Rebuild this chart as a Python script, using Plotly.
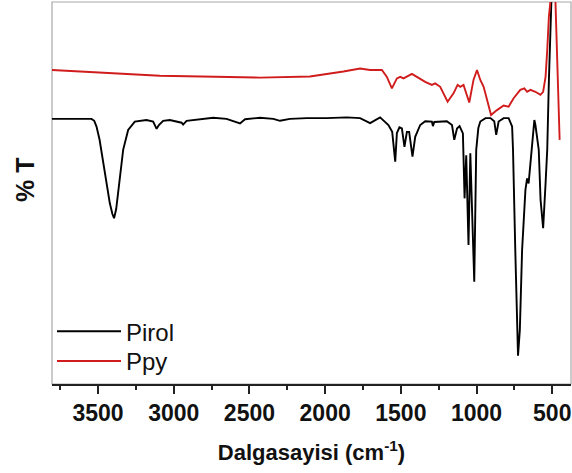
import plotly.graph_objects as go

# Pirol (black) spectrum: wavenumber (cm-1) and %T (arbitrary, 0-100 display scale)
pirol_wn = [3804, 3543, 3525, 3510, 3490, 3467, 3445, 3422, 3405, 3394, 3380, 3367, 3350, 3334, 3301, 3257, 3180, 3136, 3113, 3098, 3070,
            3026, 2948, 2938, 2915, 2827, 2739, 2651, 2562, 2529, 2430, 2342, 2298, 2232, 2121, 1989,
            1857, 1769, 1703, 1637, 1582, 1557, 1537, 1526, 1509, 1493, 1476, 1460, 1445, 1423, 1405,
            1372, 1339, 1295, 1288, 1279, 1196, 1162, 1147, 1129, 1112, 1090, 1079, 1068, 1053, 1041,
            1015, 1002, 988, 975, 941, 908, 883, 870, 854, 821, 788, 765, 759, 744, 726, 714, 699,
            677, 666, 656, 644, 633, 618, 611, 589, 577, 560, 544, 533, 522, 511, 497]
pirol_t = [69.4, 69.4, 68.9, 67.4, 64.0, 58.6, 52.5, 47.3, 44.5, 43.4, 45.8, 49.9, 56.5, 61.3, 66.5, 68.7, 69.1, 68.7, 66.8, 67.8, 68.9,
           69.1, 68.4, 67.9, 68.9, 69.3, 69.7, 69.4, 68.2, 69.3, 69.7, 69.4, 68.9, 69.4, 69.6, 69.6,
           69.8, 69.6, 68.3, 69.8, 67.8, 66.0, 58.2, 65.7, 67.2, 66.9, 62.1, 66.0, 66.0, 59.5, 64.7,
           67.8, 68.8, 68.7, 67.5, 68.6, 68.8, 67.8, 63.9, 66.9, 67.5, 65.6, 48.6, 59.9, 36.4, 60.4,
           26.8, 61.3, 67.0, 68.7, 69.6, 69.6, 68.8, 65.2, 68.7, 69.6, 69.6, 67.4, 61.3, 35.1, 7.4, 14.1, 35.1,
           50.8, 53.8, 52.5, 57.8, 61.3, 69.1, 67.8, 61.3, 48.2, 40.8, 52.5, 61.3, 79.6, 100.5, 111.0]

# Ppy (red) spectrum
ppy_wn = [3804, 3092, 2430, 2100, 1879, 1769, 1703, 1625, 1592, 1559, 1526, 1504, 1482, 1427, 1394,
          1339, 1295, 1273, 1240, 1191, 1152, 1125, 1107, 1086, 1048, 1020, 997, 975, 953, 931,
          904, 865, 821, 788, 755, 711, 684, 666, 644, 611, 578, 560, 544, 533, 522, 511, 495,
          479, 468, 464, 451]
ppy_t = [82.2, 80.7, 80.2, 80.5, 81.8, 82.6, 82.2, 82.2, 80.4, 77.4, 80.0, 80.4, 80.0, 81.2, 80.4,
         79.1, 78.3, 78.7, 77.8, 73.9, 76.1, 78.3, 77.8, 78.3, 73.7, 79.6, 82.2, 79.6, 77.8, 74.3,
         70.4, 71.7, 72.9, 72.6, 74.8, 77.0, 77.4, 76.5, 77.0, 76.5, 75.7, 76.5, 80.4, 87.4, 96.2, 100.5, 108.0,
         100.5, 87.4, 79.6, 63.9]

x_ticks = [3500, 3000, 2500, 2000, 1500, 1000, 500]
x_minor = [3750, 3250, 2750, 2250, 1750, 1250, 750]

FONT = "Liberation Sans, Arial, sans-serif"

fig = go.Figure()
fig.add_trace(go.Scatter(x=pirol_wn, y=pirol_t, mode="lines", name="Pirol", legend="legend",
                         line=dict(color="#000000", width=1.9)))
fig.add_trace(go.Scatter(x=ppy_wn, y=ppy_t, mode="lines", name="Ppy", legend="legend2",
                         line=dict(color="#d01c1c", width=1.9)))

leg_common = dict(xanchor="left", yanchor="top", bgcolor="rgba(0,0,0,0)", itemwidth=64,
                  font=dict(family=FONT, size=24, color="#111111"))

fig.update_layout(
    width=572, height=473,
    margin=dict(l=52, r=1, t=2, b=89),
    paper_bgcolor="white", plot_bgcolor="white",
    font=dict(family=FONT, color="#111111"),
    showlegend=True,
    legend=dict(x=0.0, y=0.196, **leg_common),
    legend2=dict(x=0.0, y=0.118, **leg_common),
    xaxis=dict(range=[3804, 376], tickvals=x_ticks, ticktext=[str(v) for v in x_ticks],
               automargin=False,
               showline=True, linecolor="#222222", linewidth=1.5,
               ticks="outside", ticklen=8, tickwidth=1.5, tickcolor="#222222",
               minor=dict(ticks="outside", ticklen=4, tickwidth=1.5, tickcolor="#222222",
                          tickvals=x_minor),
               tickfont=dict(family=FONT, size=23, weight="bold", color="#111111"),
               showgrid=False, zeroline=False,
               title=dict(text="Dalgasayisi (cm<sup>-1</sup>)",
                          font=dict(family=FONT, size=22, weight="bold", color="#111111"),
                          standoff=19)),
    yaxis=dict(range=[0, 100], showticklabels=False, ticks="", showgrid=False, zeroline=False,
               showline=False, automargin=False),
)
fig.add_annotation(text="% T", xref="paper", yref="paper", x=-0.052, y=0.534,
                   xanchor="center", yanchor="middle", textangle=-90, showarrow=False,
                   font=dict(family=FONT, size=25, weight="bold", color="#111111"))
fig.add_shape(type="rect", xref="paper", yref="paper", x0=0, y0=0, x1=1, y1=1,
              line=dict(color="#a8a8a8", width=1.2), layer="below")

fig.write_html("out.html", config={"displayModeBar": False},
               post_script="document.body.style.margin='0';")
